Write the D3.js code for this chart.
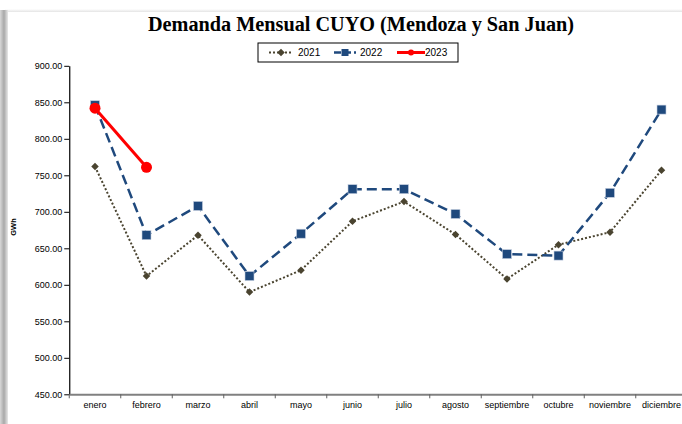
<!DOCTYPE html>
<html><head><meta charset="utf-8">
<script src="https://cdn.jsdelivr.net/npm/d3@7"></script>
<style>html,body{margin:0;padding:0;background:#fff;overflow:hidden}</style>
</head><body>
<svg id="c" width="682" height="424"></svg>
<script>
const months = ["enero","febrero","marzo","abril","mayo","junio","julio","agosto","septiembre","octubre","noviembre","diciembre"];
const s2021 = [762, 612, 668, 590, 620, 687, 714, 669, 608, 655, 672, 757];
const s2022 = [846, 668, 708, 612, 670, 731, 731, 697, 642, 640, 726, 840];
const s2023 = [842, 761];
const yTicks = [450, 500, 550, 600, 650, 700, 750, 800, 850, 900];
const titleText = "Demanda Mensual CUYO (Mendoza y San Juan)";
const yLabel = "GWh";

const svg = d3.select("#c");
// frame shadow
const defs = svg.append("defs");
const gl = defs.append("linearGradient").attr("id","gl").attr("x1","0").attr("x2","1");
gl.append("stop").attr("offset","0").attr("stop-color","#d8d8d8");
gl.append("stop").attr("offset","0.5").attr("stop-color","#a8a8a8");
gl.append("stop").attr("offset","1").attr("stop-color","#e8e8e8");
const gt = defs.append("linearGradient").attr("id","gt").attr("x1","0").attr("x2","0").attr("y1","0").attr("y2","1");
gt.append("stop").attr("offset","0").attr("stop-color","#ffffff");
gt.append("stop").attr("offset","1").attr("stop-color","#e4e4e4");
svg.append("rect").attr("x",5).attr("y",9).attr("width",677).attr("height",3).attr("fill","url(#gt)");
svg.append("rect").attr("x",0).attr("y",10).attr("width",8).attr("height",414).attr("fill","url(#gl)");

const x = d3.scaleBand().domain(months).range([69.25, 687.25]);
const y = d3.scaleLinear().domain([450, 900]).range([394.3, 65.8]);

// title
svg.append("text").attr("x",361).attr("y",31).attr("text-anchor","middle")
  .attr("font-family","Liberation Serif, serif").attr("font-weight","bold").attr("font-size",20.5)
  .attr("textLength",426).attr("lengthAdjust","spacingAndGlyphs")
  .attr("fill","#000").text(titleText);

// y axis
const ya = svg.append("g").attr("transform","translate(69.25,0)")
  .call(d3.axisLeft(y).tickValues(yTicks).tickFormat(d3.format(".2f")).tickSize(5).tickSizeOuter(0));
ya.select(".domain").attr("stroke","#000").attr("stroke-width",1.2);
ya.selectAll(".tick line").attr("stroke","#000");
ya.selectAll(".tick text").attr("font-family","Liberation Sans, Arial, sans-serif").attr("font-size",9).attr("fill","#000").attr("x",-7);

// x axis
const xa = svg.append("g").attr("transform","translate(0,394.3)")
  .call(d3.axisBottom(x).tickSize(0).tickSizeOuter(0));
xa.select(".domain").attr("stroke","#808080").attr("stroke-width",2);
xa.selectAll(".tick text").attr("font-family","Liberation Sans, Arial, sans-serif").attr("font-size",9).attr("fill","#000").attr("dy","1.15em");
xa.selectAll(".tick line").remove();
const bounds = months.map(m => x(m));
xa.selectAll(".bt").data(bounds).enter().append("line")
  .attr("x1",d=>d).attr("x2",d=>d).attr("y1",0).attr("y2",4).attr("stroke","#606060").attr("stroke-width",1);

// y label
svg.append("text").attr("transform","translate(16,227) rotate(-90)").attr("text-anchor","middle")
  .attr("font-family","Liberation Sans, Arial, sans-serif").attr("font-weight","bold").attr("font-size",7.5).text(yLabel);

const cx = d => x(d) + x.bandwidth()/2;
const line = d3.line().x(d=>cx(d[0])).y(d=>y(d[1]));
const c21 = "#4a4430", c22 = "#1f497d", c23 = "#ff0000";

const d21 = months.map((m,i)=>[m,s2021[i]]);
const d22 = months.map((m,i)=>[m,s2022[i]]);
const d23 = s2023.map((v,i)=>[months[i],v]);

svg.append("path").datum(d21).attr("d",line).attr("fill","none").attr("stroke",c21).attr("stroke-width",2).attr("stroke-dasharray","2,2");
svg.append("path").datum(d22).attr("d",line).attr("fill","none").attr("stroke",c22).attr("stroke-width",2.5).attr("stroke-dasharray","10,5");

const diamond = d3.symbol().type(d3.symbolDiamond2).size(36);
svg.selectAll(".m21").data(d21).enter().append("path")
  .attr("transform",d=>`translate(${cx(d[0])},${y(d[1])})`).attr("d",diamond).attr("fill",c21);
svg.selectAll(".m22").data(d22).enter().append("rect")
  .attr("x",d=>cx(d[0])-4.5).attr("y",d=>y(d[1])-4.5).attr("width",9).attr("height",9)
  .attr("fill",c22).attr("stroke","#c5cfe0").attr("stroke-width",0.6);

svg.append("path").datum(d23).attr("d",line).attr("fill","none").attr("stroke",c23).attr("stroke-width",3);
svg.selectAll(".m23").data(d23).enter().append("circle")
  .attr("cx",d=>cx(d[0])).attr("cy",d=>y(d[1])).attr("r",5.5).attr("fill",c23);

// legend
const lg = svg.append("g");
lg.append("rect").attr("x",258).attr("y",43).attr("width",200).attr("height",19).attr("fill","#fff").attr("stroke","#000").attr("stroke-width",1);
const items = [
  {name:"2021", col:c21, x1:269, x2:293, tx:298, dash:"2,2", w:2, mk:"d"},
  {name:"2022", col:c22, x1:334, x2:356, tx:360, dash:"7,3", w:2.5, mk:"s"},
  {name:"2023", col:c23, x1:397, x2:425, tx:425, dash:null, w:3, mk:"c"}
];
const ly = 52.5;
items.forEach(it=>{
  const l = lg.append("line").attr("x1",it.x1).attr("x2",it.x2).attr("y1",ly).attr("y2",ly).attr("stroke",it.col).attr("stroke-width",it.w);
  if (it.dash) l.attr("stroke-dasharray",it.dash);
  const mx = (it.x1+it.x2)/2;
  if (it.mk==="d") lg.append("path").attr("transform",`translate(${mx},${ly})`).attr("d",diamond).attr("fill",it.col);
  if (it.mk==="s") lg.append("rect").attr("x",mx-3.5).attr("y",ly-3.5).attr("width",7).attr("height",7).attr("fill",it.col);
  if (it.mk==="c") lg.append("circle").attr("cx",mx).attr("cy",ly).attr("r",3).attr("fill",it.col);
  lg.append("text").attr("x",it.tx).attr("y",ly+3.5).attr("font-family","Liberation Sans, Arial, sans-serif").attr("font-size",10).attr("fill","#000").text(it.name);
});
</script>
</body></html>
